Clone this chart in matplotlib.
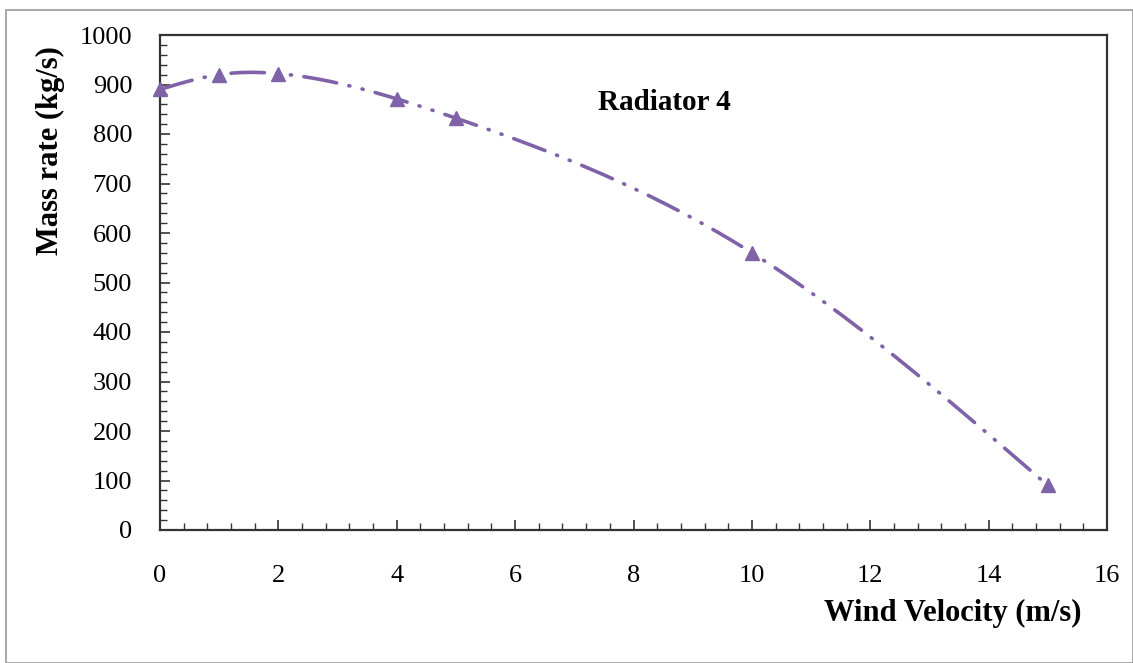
import numpy as np
import matplotlib
matplotlib.use("Agg")
import matplotlib.pyplot as plt
from matplotlib.patches import Rectangle
from matplotlib.ticker import MultipleLocator

# Radiator 4: mass flow rate vs. wind velocity
wind_velocity = [0, 1, 2, 4, 5, 10, 15]
mass_rate = [890, 920, 922, 871, 832, 560, 90]

x_ticks = [0, 2, 4, 6, 8, 10, 12, 14, 16]
y_ticks = [0, 100, 200, 300, 400, 500, 600, 700, 800, 900, 1000]

LINE_COLOR = "#7F62A8"
SERIF = ["Liberation Serif", "DejaVu Serif"]


def natural_spline(x, y, n=400):
    """Natural cubic spline through the data points (smoothed line)."""
    x = np.asarray(x, float)
    y = np.asarray(y, float)
    m = len(x)
    h = np.diff(x)
    A = np.zeros((m, m))
    b = np.zeros(m)
    A[0, 0] = A[-1, -1] = 1.0
    for i in range(1, m - 1):
        A[i, i - 1] = h[i - 1]
        A[i, i] = 2 * (h[i - 1] + h[i])
        A[i, i + 1] = h[i]
        b[i] = 6 * ((y[i + 1] - y[i]) / h[i] - (y[i] - y[i - 1]) / h[i - 1])
    M = np.linalg.solve(A, b)
    xs = np.linspace(x[0], x[-1], n)
    idx = np.clip(np.searchsorted(x, xs) - 1, 0, m - 2)
    x0, x1 = x[idx], x[idx + 1]
    hh = x1 - x0
    a = (x1 - xs) / hh
    c = (xs - x0) / hh
    ys = (a * y[idx] + c * y[idx + 1]
          + ((a ** 3 - a) * M[idx] + (c ** 3 - c) * M[idx + 1]) * hh ** 2 / 6)
    return xs, ys


plt.rcParams["lines.scale_dashes"] = False

fig = plt.figure(figsize=(11.33, 6.63), dpi=100)
fig.patch.set_facecolor("white")

# outer chart frame
fig.add_artist(Rectangle((6 / 1133, 0), 1 - 6 / 1133, 1 - 10 / 663,
                         transform=fig.transFigure, fill=False,
                         edgecolor="#9a9a9a", linewidth=1.2))

ax = fig.add_axes([160 / 1133, 1 - 530 / 663, (1107 - 160) / 1133, (530 - 35) / 663])

sx, sy = natural_spline(wind_velocity, mass_rate)
ax.plot(sx, sy, color=LINE_COLOR, linewidth=2.6,
        solid_capstyle="round", dash_capstyle="round",
        linestyle=(0, (24, 9, 0.8, 9, 0.8, 9)))
ax.plot(wind_velocity, mass_rate, linestyle="none", marker="^",
        markersize=10, color=LINE_COLOR, clip_on=False, zorder=3)

ax.set_xlim(0, 16)
ax.set_ylim(0, 1000)
ax.set_xticks(x_ticks)
ax.set_yticks(y_ticks)
ax.xaxis.set_minor_locator(MultipleLocator(0.4))
ax.yaxis.set_minor_locator(MultipleLocator(20))

ax.tick_params(which="both", direction="in", top=False, right=False,
               colors="#333333", labelcolor="black")
ax.tick_params(which="major", length=7, width=1.2)
ax.tick_params(which="minor", length=5, width=1.0)
ax.tick_params(axis="x", which="major", pad=25)
ax.tick_params(axis="y", which="major", pad=20)
for lab in ax.get_xticklabels() + ax.get_yticklabels():
    lab.set_family(SERIF)
    lab.set_fontsize(19)

for sp in ax.spines.values():
    sp.set_color("#333333")
    sp.set_linewidth(1.6)

fig.text(50 / 1133, 1 - 151 / 663, "Mass rate (kg/s)", rotation=90,
         ha="center", va="center", family=SERIF, fontsize=22, fontweight="bold")
fig.text(953 / 1133, 1 - 613 / 663, "Wind Velocity (m/s)",
         ha="center", va="center", family=SERIF, fontsize=22, fontweight="bold")
fig.text(664 / 1133, 1 - 102 / 663, "Radiator 4",
         ha="center", va="center", family=SERIF, fontsize=21, fontweight="bold")

fig.savefig("out.png", dpi=100, facecolor="white")
